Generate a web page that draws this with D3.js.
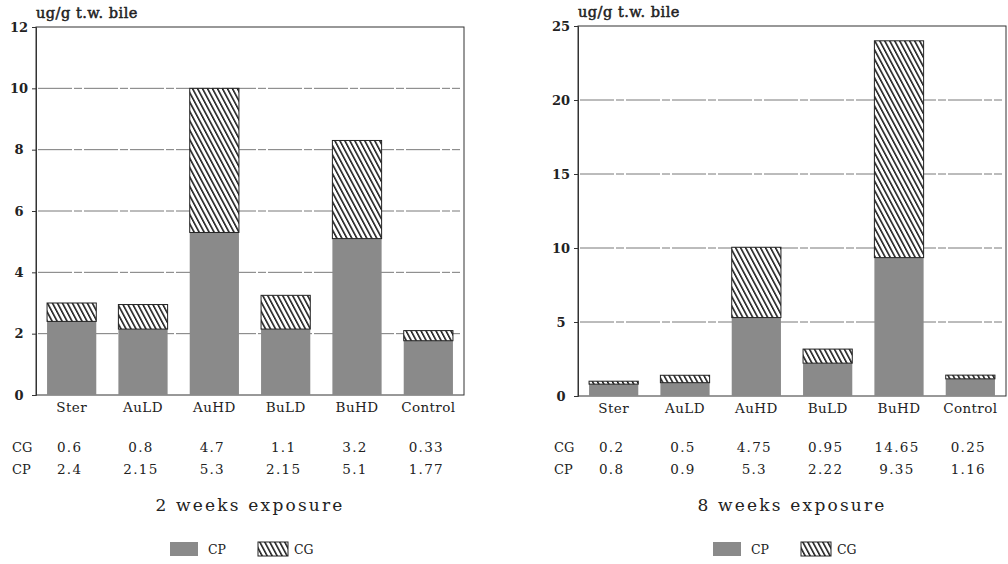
<!DOCTYPE html>
<html><head><meta charset="utf-8">
<script src="https://cdn.jsdelivr.net/npm/d3@7"></script>
<style>
body{margin:0;background:#fff;}
text{font-family:"DejaVu Serif","Liberation Serif",serif;fill:#222;}
</style></head><body>
<svg id="c" width="1008" height="564"></svg>
<script>
const categories = ["Ster","AuLD","AuHD","BuLD","BuHD","Control"];
const cp2 = [2.4, 2.15, 5.3, 2.15, 5.1, 1.77];
const cg2 = [0.6, 0.8, 4.7, 1.1, 3.2, 0.33];
const cp8 = [0.8, 0.9, 5.3, 2.22, 9.35, 1.16];
const cg8 = [0.2, 0.5, 4.75, 0.95, 14.65, 0.25];
const cgLabels2 = ["0.6","0.8","4.7","1.1","3.2","0.33"];
const cpLabels2 = ["2.4","2.15","5.3","2.15","5.1","1.77"];
const cgLabels8 = ["0.2","0.5","4.75","0.95","14.65","0.25"];
const cpLabels8 = ["0.8","0.9","5.3","2.22","9.35","1.16"];
const ticks2 = [0,2,4,6,8,10,12];
const ticks8 = [0,5,10,15,20,25];
const unitLabel = "ug/g t.w. bile";
const titles = ["2 weeks exposure","8 weeks exposure"];
const seriesNames = ["CP","CG"];

const svg = d3.select("#c");
const defs = svg.append("defs");
const pat = defs.append("pattern").attr("id","hatch").attr("patternUnits","userSpaceOnUse")
  .attr("width",4.4).attr("height",4.4).attr("patternTransform","rotate(-28)");
pat.append("rect").attr("width",4.4).attr("height",4.4).attr("fill","#fff");
pat.append("line").attr("x1",0.8).attr("y1",0).attr("x2",0.8).attr("y2",4.4).attr("stroke","#111").attr("stroke-width",1.5);

const CPCOL = "#8a8a8a";

function drawChart(o){
  const {left,right,top,bottom,cp,cg,ticks,ymax,cgL,cpL,title,legX} = o;
  const g = svg.append("g");
  const x = d3.scaleBand().domain(categories).range([left,right]).paddingInner(0.31).paddingOuter(0.155);
  const y = d3.scaleLinear().domain([0,ymax]).range([bottom,top]);
  // grid
  g.selectAll(".grid").data(ticks.filter(t=>t>0 && t<ymax)).enter().append("line")
    .attr("x1",left+2).attr("x2",right-4).attr("y1",d=>y(d)).attr("y2",d=>y(d))
    .attr("stroke","#6a6a6a").attr("stroke-width",0.9).attr("stroke-dasharray","34,2,8,2");
  // border
  g.append("rect").attr("x",left).attr("y",top).attr("width",right-left).attr("height",bottom-top)
    .attr("fill","none").attr("stroke","#333").attr("stroke-width",1);
  // CP bars
  g.selectAll(".cp").data(categories).enter().append("rect")
    .attr("x",d=>x(d)).attr("width",x.bandwidth())
    .attr("y",(d,i)=>y(cp[i])).attr("height",(d,i)=>y(0)-y(cp[i]))
    .attr("fill",CPCOL);
  // CG bars
  g.selectAll(".cg").data(categories).enter().append("rect")
    .attr("x",d=>x(d)).attr("width",x.bandwidth())
    .attr("y",(d,i)=>y(cp[i]+cg[i])).attr("height",(d,i)=>y(cp[i])-y(cp[i]+cg[i]))
    .attr("fill","url(#hatch)").attr("stroke","#222").attr("stroke-width",1);
  // axis
  const ax = g.append("g").attr("transform",`translate(${left},0)`)
    .call(d3.axisLeft(y).tickValues(ticks).tickSize(4).tickFormat(d3.format("d")));
  ax.select(".domain").attr("stroke","#333");
  ax.selectAll("line").attr("stroke","#333");
  ax.selectAll("text").attr("text-anchor","middle").attr("x",-17)
    .style("font-size","13px").style("font-weight","bold").style("font-family","'DejaVu Serif',serif").attr("fill","#222");
  // unit
  g.append("text").attr("x",left).attr("y",top-9).text(unitLabel)
    .style("font-size","14.5px").style("letter-spacing","0.5px")
    .attr("stroke","#222").attr("stroke-width",0.5);
  // category labels
  g.selectAll(".cat").data(categories).enter().append("text")
    .attr("x",d=>x(d)+x.bandwidth()/2).attr("y",bottom+17).attr("text-anchor","middle")
    .style("font-size","13.5px").style("letter-spacing","0.4px").text(d=>d);
  // table rows
  const rows = [["CG",cgL,447],["CP",cpL,469]];
  rows.forEach(([lab,vals,yy])=>{
    g.append("text").attr("x",left-24).attr("y",yy+5).attr("text-anchor","start").style("font-size","13px").text(lab);
    g.selectAll(null).data(categories).enter().append("text")
      .attr("x",d=>x(d)+x.bandwidth()/2-2).attr("y",yy+5).attr("text-anchor","middle")
      .style("font-size","13.5px").style("letter-spacing","1.3px").text((d,i)=>vals[i]);
  });
  // title
  g.append("text").attr("x",(left+right)/2).attr("y",511).attr("text-anchor","middle")
    .style("font-size","17px").style("letter-spacing","2.2px").text(title);
  // legend
  const lg = g.append("g").attr("transform",`translate(${legX},0)`);
  lg.append("rect").attr("x",0).attr("y",542).attr("width",28).attr("height",14).attr("fill",CPCOL);
  lg.append("text").attr("x",38).attr("y",554).style("font-size","12.5px").text(seriesNames[0]);
  lg.append("rect").attr("x",88).attr("y",542).attr("width",30).attr("height",14).attr("fill","url(#hatch)").attr("stroke","#222");
  lg.append("text").attr("x",124).attr("y",554).style("font-size","12.5px").text(seriesNames[1]);
}

drawChart({left:36,right:464,top:27,bottom:395,cp:cp2,cg:cg2,ticks:ticks2,ymax:12,cgL:cgLabels2,cpL:cpLabels2,title:titles[0],legX:170});
drawChart({left:578,right:1006,top:26,bottom:396,cp:cp8,cg:cg8,ticks:ticks8,ymax:25,cgL:cgLabels8,cpL:cpLabels8,title:titles[1],legX:713});
</script>
</body></html>
